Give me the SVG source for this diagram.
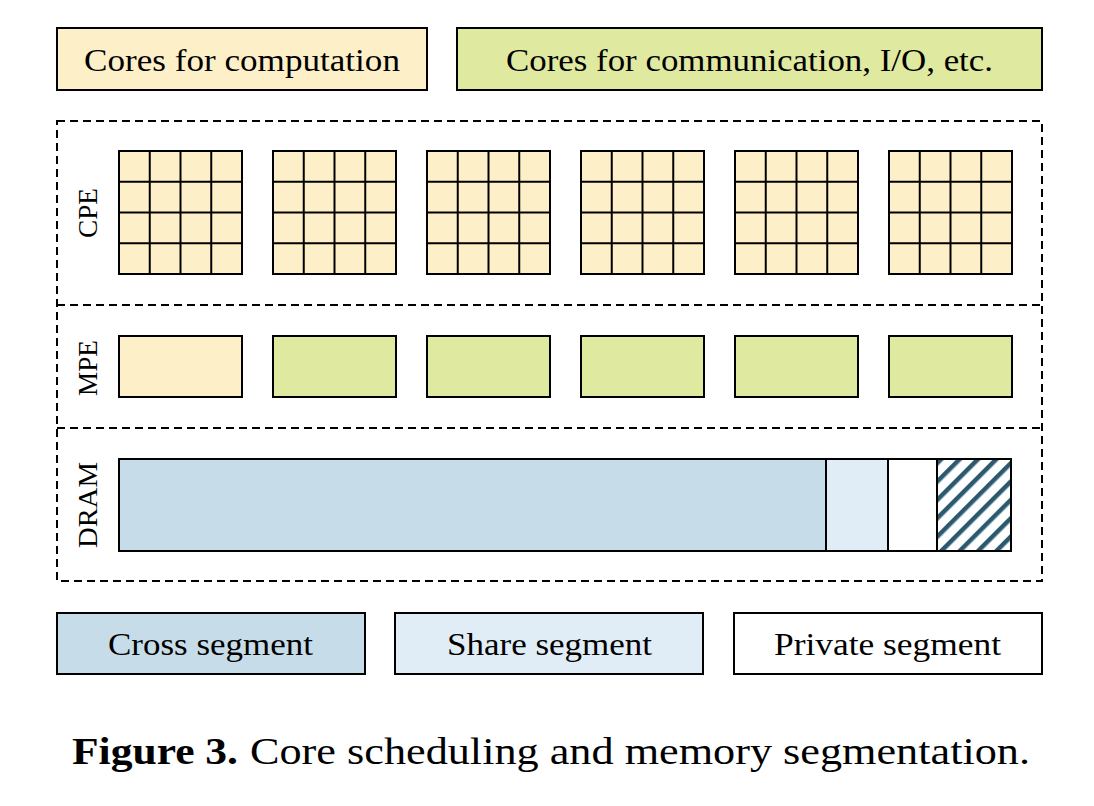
<svg xmlns="http://www.w3.org/2000/svg" width="1094" height="806" viewBox="0 0 1094 806">
<defs>
<style>
.b{stroke:#000;stroke-width:2}
.y{fill:#fdf0c8}
.g{fill:#dfe9a0}
.c{fill:#c6dde9}
.s{fill:#e1edf6}
.w{fill:#fff}
.d{fill:none;stroke:#000;stroke-width:2;stroke-dasharray:8,5}
.t{font-family:"Liberation Serif","Times New Roman",serif;font-size:31px;fill:#000}
.v{font-family:"Liberation Serif","Times New Roman",serif;font-size:28px;fill:#000}
.grid line{stroke:#000;stroke-width:2}
</style>
<pattern id="hatch" patternUnits="userSpaceOnUse" width="13" height="13" patternTransform="rotate(45)">
<rect width="13" height="13" fill="#fff"/>
<rect x="0" y="0" width="4.5" height="13" fill="#2b5a70"/>
</pattern>
<g id="cpe">
<rect x="0" y="0" width="123" height="123" class="b y"/>
<g class="grid">
<line x1="30.75" y1="0" x2="30.75" y2="123"/>
<line x1="61.5" y1="0" x2="61.5" y2="123"/>
<line x1="92.25" y1="0" x2="92.25" y2="123"/>
<line x1="0" y1="30.75" x2="123" y2="30.75"/>
<line x1="0" y1="61.5" x2="123" y2="61.5"/>
<line x1="0" y1="92.25" x2="123" y2="92.25"/>
</g>
</g>
</defs>
<rect width="1094" height="806" fill="#fff"/>

<g id="legend-computation">
<rect x="57" y="28" width="370" height="62" class="b y"/>
<text x="84" y="71" textLength="316" lengthAdjust="spacingAndGlyphs" class="t">Cores for computation</text>
</g>
<g id="legend-communication">
<rect x="457" y="28" width="585" height="62" class="b g"/>
<text x="506" y="71" textLength="487" lengthAdjust="spacingAndGlyphs" class="t">Cores for communication, I/O, etc.</text>
</g>

<g id="regions-frame">
<rect x="57" y="121" width="985" height="460" class="d"/>
<line x1="57" y1="305" x2="1042" y2="305" class="d" stroke-dasharray="6,2"/>
<line x1="57" y1="428" x2="1042" y2="428" class="d" stroke-dasharray="6,2"/>
</g>

<g id="cpe-region">
<text transform="translate(97,213) rotate(-90)" text-anchor="middle" textLength="50" lengthAdjust="spacingAndGlyphs" class="v">CPE</text>
<use href="#cpe" x="119" y="151"/>
<use href="#cpe" x="273" y="151"/>
<use href="#cpe" x="427" y="151"/>
<use href="#cpe" x="581" y="151"/>
<use href="#cpe" x="735" y="151"/>
<use href="#cpe" x="889" y="151"/>
</g>

<g id="mpe-region">
<text transform="translate(97,368) rotate(-90)" text-anchor="middle" textLength="56" lengthAdjust="spacingAndGlyphs" class="v">MPE</text>
<rect x="119" y="336" width="123" height="61" class="b y"/>
<rect x="273" y="336" width="123" height="61" class="b g"/>
<rect x="427" y="336" width="123" height="61" class="b g"/>
<rect x="581" y="336" width="123" height="61" class="b g"/>
<rect x="735" y="336" width="123" height="61" class="b g"/>
<rect x="889" y="336" width="123" height="61" class="b g"/>
</g>

<g id="dram-region">
<text transform="translate(97,505) rotate(-90)" text-anchor="middle" textLength="86" lengthAdjust="spacingAndGlyphs" class="v">DRAM</text>
<rect x="119" y="459" width="707" height="92" class="b c"/>
<rect x="826" y="459" width="62" height="92" class="b s"/>
<rect x="888" y="459" width="49" height="92" class="b w"/>
<rect x="937" y="459" width="74" height="92" class="b" fill="url(#hatch)"/>
</g>

<g id="legend-cross">
<rect x="57" y="613" width="308" height="61" class="b c"/>
<text x="108" y="655" textLength="205" lengthAdjust="spacingAndGlyphs" class="t">Cross segment</text>
</g>
<g id="legend-share">
<rect x="395" y="613" width="308" height="61" class="b s"/>
<text x="447" y="655" textLength="205" lengthAdjust="spacingAndGlyphs" class="t">Share segment</text>
</g>
<g id="legend-private">
<rect x="734" y="613" width="308" height="61" class="b w"/>
<text x="774" y="655" textLength="227" lengthAdjust="spacingAndGlyphs" class="t">Private segment</text>
</g>

<g id="caption" font-family="Liberation Serif, Times New Roman, serif" font-size="38" fill="#000">
<text x="72" y="764" font-weight="bold" textLength="166" lengthAdjust="spacingAndGlyphs">Figure 3.</text>
<text x="250" y="764" textLength="780" lengthAdjust="spacingAndGlyphs">Core scheduling and memory segmentation.</text>
</g>
</svg>
